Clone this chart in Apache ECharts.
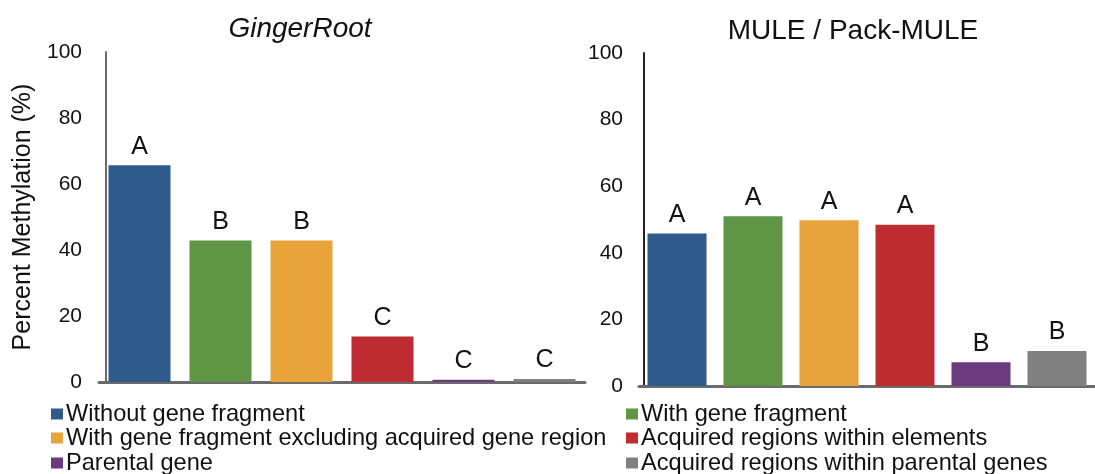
<!DOCTYPE html>
<html>
<head>
    <meta charset="utf-8">
    <title>Percent Methylation</title>
    <script src="https://cdn.jsdelivr.net/npm/echarts@6/dist/echarts.min.js"></script>
    <style>
        html, body { margin: 0; padding: 0; background: #fff; }
        #chart { width: 1095px; height: 474px; }
    </style>
</head>
<body>
    <div id="chart"></div>
    <script>
        // 数据
        var categories = [
            'Without gene fragment',
            'With gene fragment',
            'With gene fragment excluding acquired gene region',
            'Acquired regions within elements',
            'Parental gene',
            'Acquired regions within parental genes'
        ];
        var colors = ['#2F5A8C', '#5E9645', '#E8A23A', '#BE2B30', '#6B3A7E', '#808080'];
        var gingerValues = [65.7, 42.9, 42.9, 13.8, 0.7, 0.9];
        var gingerLetters = ['A', 'B', 'B', 'C', 'C', 'C'];
        var muleValues = [45.8, 51.0, 49.8, 48.4, 7.1, 10.5];
        var muleLetters = ['A', 'A', 'A', 'A', 'B', 'B'];
        var yTicks = [0, 20, 40, 60, 80, 100];

        var font = '"Liberation Sans", Arial, sans-serif';

        // 每个类别一个系列, 用堆叠让柱子居中
        function makeSeries(values, letters, idx, stack, width) {
            return categories.map(function (name, i) {
                return {
                    name: name,
                    type: 'bar',
                    stack: stack,
                    xAxisIndex: idx,
                    yAxisIndex: idx,
                    barWidth: width,
                    itemStyle: { color: colors[i] },
                    label: {
                        show: true,
                        position: 'top',
                        distance: 6,
                        fontFamily: font,
                        fontSize: 25,
                        color: '#111',
                        formatter: function () { return letters[i]; }
                    },
                    data: categories.map(function (c, j) { return j === i ? values[j] : '-'; })
                };
            });
        }

        function yAxis(idx, offset, margin, lineColor, name) {
            return {
                type: 'value',
                gridIndex: idx,
                min: yTicks[0],
                max: yTicks[yTicks.length - 1],
                interval: 20,
                offset: offset,
                name: name,
                nameLocation: 'middle',
                nameGap: 70,
                nameTextStyle: { fontFamily: font, fontSize: 25, color: '#111' },
                axisLine: { show: true, lineStyle: { color: lineColor, width: 2 } },
                axisTick: { show: false },
                splitLine: { show: false },
                axisLabel: { fontFamily: font, fontSize: 21, color: '#111', margin: margin }
            };
        }

        function xAxis(idx) {
            return {
                type: 'category',
                gridIndex: idx,
                data: categories,
                axisLine: { show: true, lineStyle: { color: '#6b6b6b', width: 3 } },
                axisTick: { show: false },
                axisLabel: { show: false }
            };
        }

        // 图例: 两列三行, 每项单独定位
        var legendCols = [51, 626];
        var legendRows = [402, 426, 451];
        var legends = categories.map(function (name, k) {
            return {
                left: legendCols[k % 2],
                top: legendRows[Math.floor(k / 2)],
                padding: 0,
                itemWidth: 12, itemHeight: 11, icon: 'rect',
                textStyle: { fontFamily: font, fontSize: 23.6, color: '#111', padding: [0, 0, 0, -2] },
                data: [name]
            };
        });

        var myChart = echarts.init(document.getElementById('chart'));
        var option = {
            animation: false,
            title: [
                { text: 'GingerRoot', left: 295, top: 10, textAlign: 'center',
                  textStyle: { fontFamily: font, fontSize: 28, fontStyle: 'italic', fontWeight: 'normal', color: '#111' } },
                { text: 'MULE / Pack-MULE', left: 848, top: 12, textAlign: 'center',
                  textStyle: { fontFamily: font, fontSize: 28, fontWeight: 'normal', color: '#111' } }
            ],
            legend: legends,
            grid: [
                { left: 99, width: 486, top: 52, height: 330 },
                { left: 639, width: 466, top: 53, height: 333 }
            ],
            xAxis: [xAxis(0), xAxis(1)],
            yAxis: [
                yAxis(0, -7, 24, '#6b6b6b', 'Percent Methylation (%)'),
                yAxis(1, -5, 21, '#222', '')
            ],
            series: makeSeries(gingerValues, gingerLetters, 0, 'g', 62)
                .concat(makeSeries(muleValues, muleLetters, 1, 'm', 59))
        };
        myChart.setOption(option);
    </script>
</body>
</html>
